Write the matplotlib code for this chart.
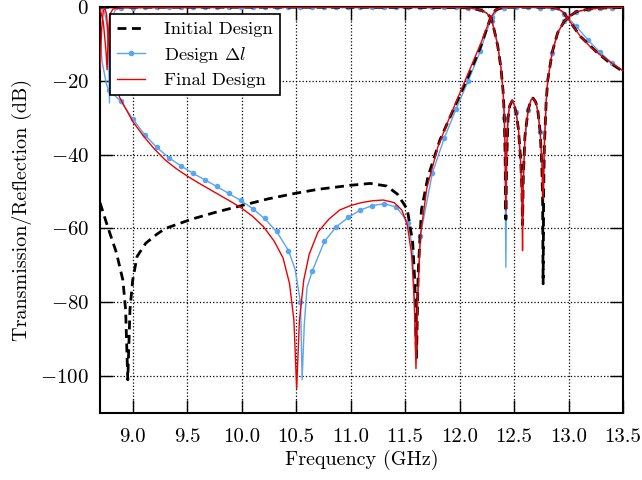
import numpy as np
import matplotlib
matplotlib.use("Agg")
import matplotlib.pyplot as plt

plt.rcParams["font.family"] = "serif"
plt.rcParams["font.serif"] = ["cmr10"]
plt.rcParams["mathtext.fontset"] = "cm"
plt.rcParams["axes.formatter.use_mathtext"] = True

# ---- Initial design (black dashed) ----
init_s21_f = [8.70, 8.77, 8.85, 8.91, 8.935, 8.955, 8.975, 9.00, 9.04, 9.12, 9.22, 9.30,
              9.54, 9.75, 10.00, 10.24, 10.49, 10.70, 10.92, 11.00, 11.18, 11.33, 11.43,
              11.52, 11.57, 11.59, 11.605, 11.62, 11.65, 11.71, 11.82, 11.94, 12.07, 12.19,
              12.28, 12.33, 12.40, 12.50, 12.60, 12.70, 12.80, 12.90, 12.95, 12.99, 13.11,
              13.25, 13.36, 13.50]
init_s21 = [-53, -59.5, -66.5, -74, -82, -101, -82, -74, -67.6, -64, -61.6, -60,
            -57.5, -55.7, -53.8, -52, -50.5, -49.4, -48.6, -48.3, -47.8, -48.5, -50.7,
            -54.8, -63.8, -75, -95, -72, -55, -46, -36, -28, -19.5, -11,
            -3.3, -0.8, -0.1, -0.05, -0.05, -0.05, -0.1, -0.3, -1.3, -3, -8,
            -12, -14.7, -17.5]
init_s11_f = [8.70, 9.50, 10.50, 11.50, 12.00, 12.10, 12.20, 12.25, 12.29, 12.32, 12.35,
              12.38, 12.40, 12.41, 12.418, 12.425, 12.432, 12.445, 12.46, 12.483, 12.50,
              12.52, 12.54, 12.56, 12.572, 12.578, 12.585, 12.60, 12.63, 12.655, 12.675,
              12.70, 12.72, 12.74, 12.755, 12.762, 12.767, 12.772, 12.778, 12.795, 12.81,
              12.85, 12.90, 12.96, 13.00, 13.07, 13.18, 13.29, 13.40, 13.50]
init_s11 = [-0.05, -0.05, -0.05, -0.1, -0.15, -0.3, -0.9, -1.7, -3, -6.5, -10.5,
            -16.5, -23, -29, -40, -57.5, -42, -30, -26.8, -25.4, -26.4,
            -28.8, -33, -41, -49, -59, -46, -35, -27.8, -25.2, -24.7,
            -25.8, -28.5, -34, -43, -52, -75, -50, -38, -25.5, -19.7,
            -12.3, -7, -3.9, -2.7, -1.3, -0.6, -0.3, -0.2, -0.15]

# ---- Design delta-l (blue with dots every 0.11 GHz) ----
dl_s21_f = [8.70, 8.72, 8.76, 8.78, 8.89, 9.00, 9.11, 9.22, 9.33, 9.44, 9.55, 9.66, 9.77,
            9.88, 9.99, 10.10, 10.21, 10.32, 10.43, 10.49, 10.54, 10.555, 10.575, 10.60,
            10.65, 10.76, 10.87, 10.98, 11.09, 11.20, 11.31, 11.42, 11.53, 11.57, 11.60,
            11.61, 11.64, 11.75, 11.86, 11.97, 12.08, 12.19, 12.25, 12.30, 12.35, 12.41,
            12.52, 12.63, 12.74, 12.85, 12.92, 12.96, 13.00, 13.07, 13.18, 13.29, 13.40,
            13.50]
dl_s21 = [-8, -15, -21, -22.5, -25.5, -30.3, -34.6, -38, -40.8, -43, -45, -46.8, -48.6,
          -50.5, -52.4, -54.6, -57.3, -60.8, -66, -71, -80, -101, -86, -76,
          -71.4, -63.5, -59.5, -57, -55, -53.8, -53.3, -54.2, -58.5, -66, -94,
          -80, -62, -45, -35.5, -27.5, -20, -12, -6.5, -2.6, -0.8, -0.15,
          -0.1, -0.1, -0.15, -0.4, -0.9, -1.8, -3.1, -5.2, -9.0, -12.3, -15.2,
          -17.3]
dl_s11_f = [8.70, 8.74, 8.765, 8.78, 8.787, 8.795, 8.81, 8.84, 8.89, 9.00, 9.11, 9.22,
            9.33, 9.44, 9.55, 9.66, 9.77, 9.88, 9.99, 10.10, 10.21, 10.32, 10.43, 10.54,
            10.65, 10.76, 10.87, 10.98, 11.09, 11.20, 11.31, 11.42, 11.53, 11.64, 11.75,
            11.86, 11.97, 12.08, 12.19, 12.25, 12.30, 12.35, 12.38, 12.40, 12.41, 12.418,
            12.425, 12.432, 12.445, 12.46, 12.483, 12.50, 12.52, 12.54, 12.56, 12.572,
            12.578, 12.585, 12.60, 12.63, 12.655, 12.675, 12.70, 12.72, 12.74, 12.755,
            12.767, 12.778, 12.795, 12.81, 12.85, 12.90, 12.96, 13.00, 13.07, 13.18,
            13.29, 13.40, 13.50]
dl_s11 = [-0.3, -1.2, -5, -14, -26, -12, -3, -0.8, -0.3, -0.15, -0.1, -0.1,
          -0.1, -0.1, -0.1, -0.1, -0.1, -0.1, -0.1, -0.1, -0.1, -0.1, -0.1, -0.1,
          -0.1, -0.1, -0.1, -0.1, -0.1, -0.1, -0.1, -0.1, -0.1, -0.1, -0.1,
          -0.1, -0.1, -0.2, -0.6, -1.6, -3.8, -10, -16.5, -23, -30, -45,
          -70.5, -45, -31, -27, -25.3, -26.2, -28.5, -33, -41, -50,
          -58, -48, -36, -28, -25.2, -24.7, -25.8, -28.5, -34, -42,
          -62, -40, -26, -19.7, -12.5, -7, -3.9, -2.7, -1.3, -0.6,
          -0.3, -0.2, -0.15]

# ---- Final design (red) ----
fin_s21_f = [8.70, 8.715, 8.73, 8.745, 8.76, 8.78, 8.82, 8.88, 9.00, 9.10, 9.20, 9.30,
             9.40, 9.50, 9.60, 9.70, 9.80, 9.90, 10.00, 10.10, 10.20, 10.30, 10.38,
             10.44, 10.48, 10.505, 10.53, 10.57, 10.62, 10.70, 10.80, 10.90, 11.00,
             11.10, 11.20, 11.30, 11.40, 11.47, 11.52, 11.56, 11.585, 11.60, 11.615,
             11.64, 11.70, 11.80, 11.90, 12.00, 12.10, 12.20, 12.28, 12.33, 12.38,
             12.50, 12.70, 12.85, 12.90, 12.95, 12.99, 13.05, 13.11, 13.20, 13.30,
             13.40, 13.50]
fin_s21 = [-17, -6, -1, -0.3, -2, -10, -19, -24.5, -31, -35, -38.5, -41.5,
           -43.8, -45.8, -47.6, -49.3, -51, -52.7, -54.5, -56.7, -59.5, -63.5, -68,
           -75, -85, -103.5, -85, -74, -67, -61, -57.5, -55, -53.8,
           -53, -52.5, -52.3, -53, -55, -59, -67, -80, -98, -80,
           -62, -49, -38, -30.5, -23.5, -16.5, -9.5, -3.3, -0.8, -0.2,
           -0.1, -0.1, -0.2, -0.4, -1.3, -3, -5.5, -8, -10.8, -13.2,
           -15.3, -17.3]
fin_s11_f = [8.70, 8.73, 8.755, 8.765, 8.775, 8.79, 8.82, 8.90, 10.00, 11.00, 12.00,
             12.10, 12.20, 12.25, 12.29, 12.32, 12.35, 12.38, 12.40, 12.41, 12.418,
             12.425, 12.432, 12.445, 12.46, 12.483, 12.50, 12.52, 12.54, 12.56, 12.572,
             12.578, 12.585, 12.60, 12.63, 12.655, 12.675, 12.70, 12.72, 12.74, 12.755,
             12.767, 12.778, 12.795, 12.81, 12.85, 12.90, 12.96, 13.00, 13.07, 13.18,
             13.29, 13.40, 13.50]
fin_s11 = [-0.5, -4, -12, -17, -8, -2, -0.5, -0.2, -0.1, -0.1, -0.15,
           -0.3, -0.9, -1.7, -3, -6.5, -10.5, -16.5, -23, -29, -38,
           -55, -38, -29.5, -26.6, -25.3, -26.3, -28.8, -33, -42, -52,
           -66, -47, -35, -27.8, -25.2, -24.7, -25.8, -28.5, -34, -41,
           -52, -37, -25.5, -19.7, -12.3, -7, -3.9, -2.7, -1.3, -0.6,
           -0.3, -0.2, -0.15]

MARK_START, MARK_STEP = 9.0, 0.11
C_BLUE = "#5aa5f2"


def marker_idx(freqs):
    k = (np.asarray(freqs) - MARK_START) / MARK_STEP
    return [i for i, v in enumerate(k) if abs(v - round(v)) < 1e-3]


fig = plt.figure(figsize=(6.42, 4.8), dpi=100)
ax = fig.add_axes([100 / 642, 1 - 413 / 480, 523 / 642, 406 / 480])

dash = (0, (3.2, 2.0))
ax.plot(dl_s21_f, dl_s21, color=C_BLUE, lw=1.0, marker="o", ms=4, mew=0,
        markevery=marker_idx(dl_s21_f), zorder=2, label=r"Design $\Delta l$")
ax.plot(dl_s11_f, dl_s11, color=C_BLUE, lw=1.0, marker="o", ms=4, mew=0,
        markevery=marker_idx(dl_s11_f), zorder=2)
ax.plot(init_s21_f, init_s21, color="black", lw=2.0, ls=dash, zorder=3,
        label="Initial Design")
ax.plot(init_s11_f, init_s11, color="black", lw=2.0, ls=dash, zorder=3)
ax.plot(fin_s21_f, fin_s21, color="#ee0000", lw=1.0, zorder=4, label="Final Design")
ax.plot(fin_s11_f, fin_s11, color="#ee0000", lw=1.0, zorder=4)

ax.set_xlim(8.7, 13.5)
ax.set_ylim(-110, 0)
ax.set_xticks(np.arange(9.0, 13.51, 0.5))
ax.set_xticklabels([f"{v:.1f}" for v in np.arange(9.0, 13.51, 0.5)])
ax.set_yticks([-100, -80, -60, -40, -20, 0])
ax.grid(True, color="black", linestyle=":", linewidth=0.9)
ax.tick_params(direction="in", length=9.5, width=1.0, top=True, right=True,
               labelsize=15)
ax.tick_params(axis="x", pad=11)
ax.tick_params(axis="y", pad=8)
for s in ax.spines.values():
    s.set_linewidth(1.5)

ax.set_xlabel("Frequency (GHz)", fontsize=14.5, labelpad=3)
ax.set_ylabel("Transmission/Reflection (dB)", fontsize=14.5, labelpad=6)

h, l = ax.get_legend_handles_labels()
order = [1, 0, 2]
leg = ax.legend([h[i] for i in order], [l[i] for i in order], loc="upper left",
                bbox_to_anchor=(10 / 523, 1 - 7 / 406), borderaxespad=0,
                fontsize=13.3, fancybox=False, framealpha=1, edgecolor="black",
                handlelength=1.5, handletextpad=1.0, labelspacing=0.4,
                borderpad=0.4)
leg.get_frame().set_linewidth(1.2)

fig.savefig("out.png", dpi=100)
